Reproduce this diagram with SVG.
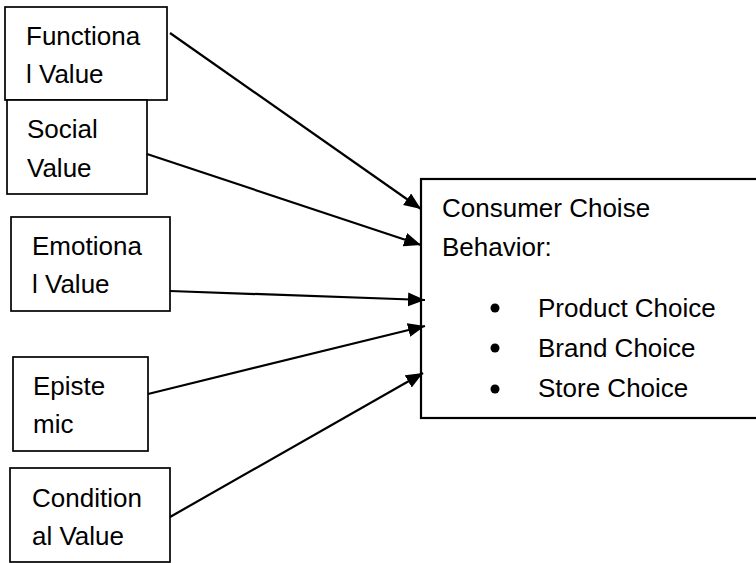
<svg xmlns="http://www.w3.org/2000/svg" width="756" height="563" viewBox="0 0 756 563">
  <style>
    .box { fill: #ffffff; stroke: #000000; stroke-width: 1.7; }
    .lbl { font-family: "Liberation Sans", Arial, sans-serif; font-size: 26px; fill: #000000; }
    .conn { stroke: #000000; stroke-width: 2.2; fill: none; marker-end: url(#arrow); }
  </style>
  <defs>
    <marker id="arrow" markerUnits="userSpaceOnUse" markerWidth="18" markerHeight="15" refX="17" refY="7" orient="auto">
      <path d="M0,0 L17,7 L0,14 Z" fill="#000000"/>
    </marker>
  </defs>
  <rect width="756" height="563" fill="#ffffff"/>

  <g id="target">
    <rect class="box" x="421" y="179" width="340" height="239" style="stroke-width:2.2"/>
    <text class="lbl" x="442" y="217">Consumer Choise</text>
    <text class="lbl" x="442" y="256">Behavior:</text>
    <circle cx="495" cy="308" r="4.5" fill="#000000"/>
    <circle cx="495" cy="348" r="4.5" fill="#000000"/>
    <circle cx="495" cy="389" r="4.5" fill="#000000"/>
    <text class="lbl" x="538" y="317">Product Choice</text>
    <text class="lbl" x="538" y="357">Brand Choice</text>
    <text class="lbl" x="538" y="397">Store Choice</text>
  </g>

  <g id="functional">
    <rect class="box" x="5" y="7" width="162" height="93"/>
    <text class="lbl" x="26" y="45">Functiona</text>
    <text class="lbl" x="26" y="83">l Value</text>
  </g>

  <g id="social">
    <rect class="box" x="7" y="100" width="140" height="94"/>
    <text class="lbl" x="27" y="138">Social</text>
    <text class="lbl" x="27" y="177">Value</text>
  </g>

  <g id="emotional">
    <rect class="box" x="11" y="217" width="159" height="94"/>
    <text class="lbl" x="32" y="255">Emotiona</text>
    <text class="lbl" x="32" y="293">l Value</text>
  </g>

  <g id="epistemic">
    <rect class="box" x="13" y="357" width="135" height="94"/>
    <text class="lbl" x="33" y="395">Episte</text>
    <text class="lbl" x="33" y="433">mic</text>
  </g>

  <g id="conditional">
    <rect class="box" x="10" y="468" width="160" height="94"/>
    <text class="lbl" x="32" y="507">Condition</text>
    <text class="lbl" x="32" y="545">al Value</text>
  </g>

  <g id="connectors">
    <line class="conn" x1="170" y1="33" x2="421" y2="209"/>
    <line class="conn" x1="147" y1="154" x2="421" y2="245"/>
    <line class="conn" x1="170" y1="291" x2="425" y2="300"/>
    <line class="conn" x1="148" y1="394" x2="425" y2="326"/>
    <line class="conn" x1="170" y1="517" x2="423" y2="373"/>
  </g>
</svg>
